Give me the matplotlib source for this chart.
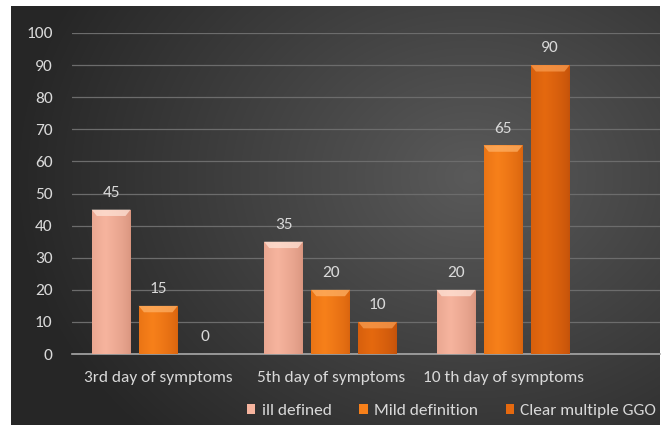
import numpy as np
import matplotlib.pyplot as plt
from matplotlib.patches import Polygon, Patch
from matplotlib.colors import to_rgb

plt.rcParams['font.family'] = ['Carlito', 'Liberation Sans', 'DejaVu Sans']

# Data
categories = ["3rd day of symptoms", "5th day of symptoms", "10 th day of symptoms"]
series_names = ["ill defined", "Mild definition", "Clear multiple GGO"]
ill_defined = [45, 35, 20]
mild_definition = [15, 20, 65]
clear_multiple_ggo = [0, 10, 90]
series_values = [ill_defined, mild_definition, clear_multiple_ggo]

# (mid colour, edge colour, bevel colour)
palette = [
    ("#f6b49e", "#d9957f", "#ffe6da"),
    ("#f7801a", "#d9640e", "#ffb46a"),
    ("#e5690f", "#c4520a", "#f9a055"),
]
text_col = "#d9d9d9"

W, H = 664, 425
fig = plt.figure(figsize=(W / 100, H / 100), dpi=100, facecolor="white")

# dark radial-gradient backdrop
bg = fig.add_axes([11 / W, 0, 649 / W, 419 / H])
bg.set_axis_off()
yy, xx = np.mgrid[0:419, 0:649]
r = np.hypot((xx - 460) / 520, (yy - 170) / 420)
shade = np.clip(0x5a / 255 - r * 0.23, 0x26 / 255, 1)
bg.imshow(np.dstack([shade] * 3), aspect="auto", extent=[0, 1, 0, 1])

ax = fig.add_axes([72 / W, 71 / H, 588 / W, 321 / H])
ax.patch.set_alpha(0)

x = np.arange(len(categories))
width = 0.226
step = 0.273

for i, (vals, (mid, edge, bevel)) in enumerate(zip(series_values, palette)):
    pos = x + (i - 1) * step
    bars = ax.bar(pos, vals, width, color=mid, zorder=3, linewidth=0)
    m, e = np.array(to_rgb(mid)), np.array(to_rgb(edge))
    t = np.linspace(0, 1, 60)
    prof = np.clip(1 - np.abs(t - 0.35) / 0.65, 0, 1) ** 0.7
    grad = e[None, :] + (m - e)[None, :] * prof[:, None]
    for b, v in zip(bars, vals):
        x0, x1 = b.get_x(), b.get_x() + b.get_width()
        if v > 0:
            im = ax.imshow(grad[None, :, :], extent=[x0, x1, 0, v], aspect="auto",
                           zorder=3.5, interpolation="bilinear")
            im.set_clip_path(b)
            bh = min(2.0, v)
            dx = 0.03
            ax.add_patch(Polygon([(x0, v), (x1, v), (x1 - dx, v - bh), (x0 + dx, v - bh)],
                                 closed=True, facecolor=bevel, edgecolor="none",
                                 alpha=0.7, zorder=4))
        ax.annotate(f"{v}", (b.get_x() + b.get_width() / 2, v), xytext=(0, 7),
                    textcoords="offset points", ha="center", va="bottom",
                    color=text_col, fontsize=12.5, zorder=5)

ax.set_xlim(-0.5, 2.91)
ax.set_ylim(0, 100)
ax.set_yticks(range(0, 101, 10))
ax.set_xticks(x)
ax.set_xticklabels(categories)
ax.tick_params(axis="both", length=0, colors=text_col, labelsize=12.5)
ax.tick_params(axis="y", pad=14)
ax.tick_params(axis="x", pad=12)
ax.grid(axis="y", color="#6c6c6c", linewidth=0.9, zorder=0)
for s in ["top", "right", "left"]:
    ax.spines[s].set_visible(False)
ax.spines["bottom"].set_color("#a8a8a8")
ax.spines["bottom"].set_linewidth(1.2)

handles = [Patch(facecolor=p[0], edgecolor="none") for p in palette]
fig.legend(handles, series_names, loc="lower right", bbox_to_anchor=(1.012, -0.02),
           ncol=3, frameon=False, handlelength=0.5, handleheight=0.5,
           handletextpad=0.35, columnspacing=1.6, fontsize=12.5, labelcolor=text_col)

fig.savefig("out.png", dpi=100)
